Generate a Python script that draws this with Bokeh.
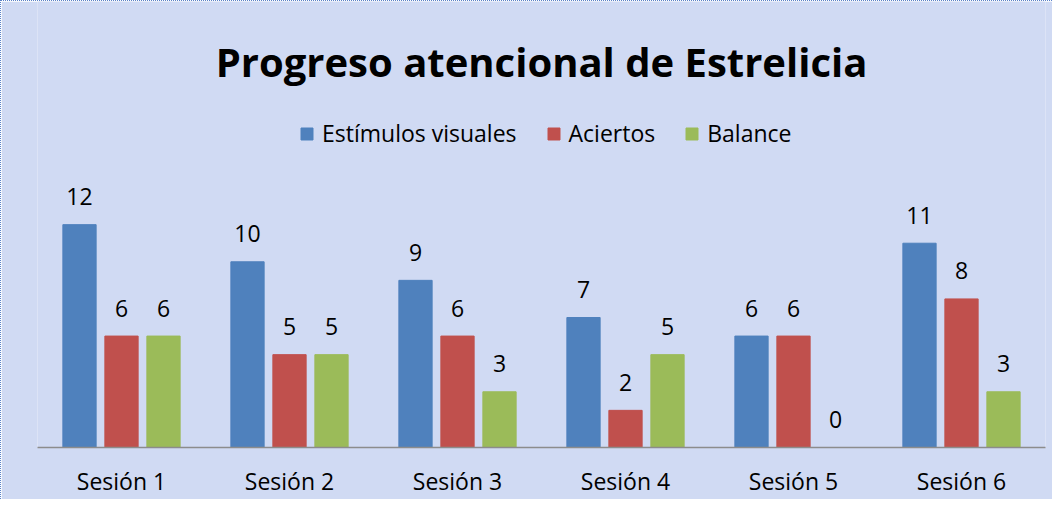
from bokeh.plotting import figure
from bokeh.models import ColumnDataSource, Label, Legend, LegendItem, Range1d
from bokeh.transform import dodge
from bokeh.core.properties import value
from bokeh.embed import file_html
from bokeh.resources import INLINE

sessions = ["Sesión 1", "Sesión 2", "Sesión 3", "Sesión 4", "Sesión 5", "Sesión 6"]
estimulos = [12, 10, 9, 7, 6, 11]
aciertos = [6, 5, 6, 2, 6, 8]
balance = [6, 5, 3, 5, 0, 3]
series_names = ["Estímulos visuales", "Aciertos", "Balance"]
colors = ["#4f81bd", "#c0504d", "#9bbb59"]
title_text = "Progreso atencional de Estrelicia"

FONT = "Open Sans"
BG = "#d0daf3"

src = ColumnDataSource(dict(
    s=sessions, est=estimulos, aci=aciertos, bal=balance,
    est_t=[str(v) for v in estimulos], aci_t=[str(v) for v in aciertos], bal_t=[str(v) for v in balance],
))

W, H = 1052, 499
AXIS_Y = 446      # frame bottom (px from top)
FRAME_L = 36
# value 14 sits 260px above the axis; the frame extends to the top of the figure
p = figure(x_range=sessions, y_range=Range1d(0, 14 * AXIS_Y / 260), width=W, height=H,
           title=None, output_backend="svg", toolbar_location=None,
           min_border_left=FRAME_L, min_border_right=8, min_border_top=0, min_border_bottom=H - AXIS_Y)
p.background_fill_color = BG
p.border_fill_color = BG
p.outline_line_color = None
p.grid.visible = False
p.yaxis.visible = False
p.x_range.range_padding = 0

ax = p.xaxis[0]
ax.axis_line_color = "#8c8c8c"
ax.axis_line_width = 1.5
ax.major_tick_line_color = None
ax.minor_tick_line_color = None
ax.major_tick_out = 0
ax.major_tick_in = 0
ax.major_label_text_font = FONT
ax.major_label_text_font_size = "23px"
ax.major_label_text_color = "#000000"
ax.major_label_standoff = 17

offsets = [-0.25, 0.0, 0.25]
fields = ["est", "aci", "bal"]
renderers = []
for off, f, c in zip(offsets, fields, colors):
    r = p.vbar(x=dodge("s", off, range=p.x_range), top=f, width=0.198, bottom=0,
               source=src, fill_color=c, line_color=c)
    renderers.append(r)
    p.text(x=dodge("s", off, range=p.x_range), y=f, text=f + "_t", source=src,
           text_font=value(FONT), text_font_size="23px", text_color="#000000",
           text_align="center", text_baseline="alphabetic", y_offset=-28)

legend = Legend(items=[LegendItem(label=n, renderers=[r]) for n, r in zip(series_names, renderers)],
                orientation="horizontal", location=(298 - FRAME_L, AXIS_Y - 148),
                glyph_width=15, glyph_height=15, label_standoff=8, spacing=29,
                padding=0, margin=0, border_line_color=None, background_fill_alpha=0,
                label_text_font=FONT, label_text_font_size="23px", label_text_color="#000000")
p.add_layout(legend, "center")

title = Label(x=540 - FRAME_L, y=AXIS_Y - 60, x_units="screen", y_units="screen", text=title_text,
              text_font=FONT, text_font_size="40px", text_font_style="bold",
              text_align="center", text_baseline="middle", text_color="#000000")
p.add_layout(title)

p.styles = {"border-top": "1px dotted #5a82c8", "border-left": "1px dotted #5a82c8"}

open("out.html", "w").write(file_html(p, INLINE))
